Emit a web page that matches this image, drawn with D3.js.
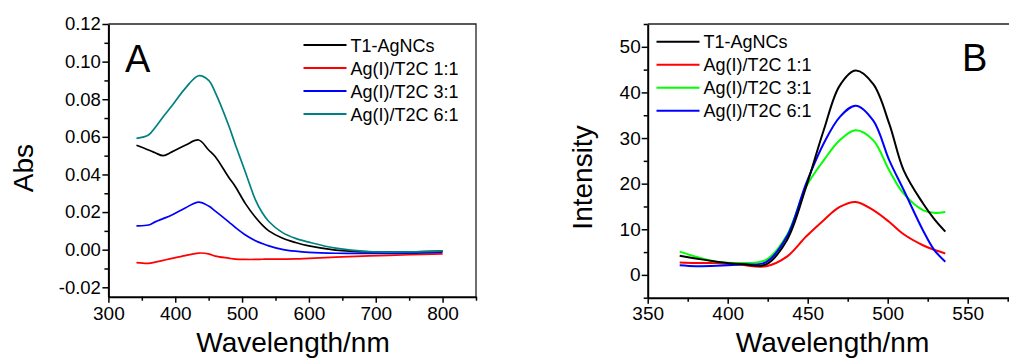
<!DOCTYPE html>
<html>
<head>
<meta charset="utf-8">
<script src="https://cdn.jsdelivr.net/npm/d3@7"></script>
<style>
  body { margin: 0; background: #fff; }
  svg { display: block; font-family: "Liberation Sans", Arial, sans-serif; }
  .axis path, .axis line { stroke: #000; }
  .axis text { fill: #000; font-family: "Liberation Sans", Arial, sans-serif; }
</style>
</head>
<body>
<svg id="chart" width="1009" height="361"></svg>
<script>
// panel A: absorbance
const waveA = [342, 360, 370, 382, 395, 415, 435, 450, 460, 480, 490, 505, 520, 530, 540, 560, 580, 600, 640, 690, 750, 800];
const absT1 = [0.0555, 0.0530, 0.0515, 0.0500, 0.0520, 0.0555, 0.0583, 0.0530, 0.0494, 0.0385, 0.0335, 0.0245, 0.0172, 0.0132, 0.0100, 0.0062, 0.0038, 0.0020, -0.0002, -0.0012, -0.0012, -0.0008];
const abs11 = [-0.0069, -0.0073, -0.0066, -0.0057, -0.0046, -0.0032, -0.0018, -0.0022, -0.0034, -0.0045, -0.0050, -0.0052, -0.0052, -0.0051, -0.0050, -0.0050, -0.0049, -0.0046, -0.0040, -0.0033, -0.0027, -0.0022];
const abs31 = [0.0127, 0.0131, 0.0148, 0.0165, 0.0184, 0.0222, 0.0253, 0.0232, 0.0205, 0.0148, 0.0118, 0.0078, 0.0048, 0.0033, 0.0020, 0.0002, -0.0008, -0.0014, -0.0019, -0.0020, -0.0019, -0.0013];
const abs61 = [0.0592, 0.0610, 0.0650, 0.0707, 0.0765, 0.0858, 0.0925, 0.0900, 0.0835, 0.0660, 0.0558, 0.0412, 0.0265, 0.0198, 0.0150, 0.0092, 0.0060, 0.0040, 0.0008, -0.0010, -0.0012, -0.0006];
const xTicksA = [300, 400, 500, 600, 700, 800];
const yTicksA = [-0.02, 0, 0.02, 0.04, 0.06, 0.08, 0.10, 0.12];

// panel B: fluorescence
const waveB = [370, 380, 393, 408, 424, 437, 449, 460, 470, 480, 491, 501, 510, 522, 529, 536];
const intT1 = [4.2, 3.6, 2.9, 2.4, 2.3, 7.6, 19.3, 31.7, 41.5, 44.8, 41.8, 33.1, 22.9, 15.7, 12.3, 9.5];
const int11 = [2.7, 2.6, 2.6, 2.2, 1.9, 4.0, 8.4, 12.0, 14.9, 16.0, 14.2, 11.6, 8.9, 6.5, 5.5, 4.7];
const int31 = [5.1, 4.0, 2.9, 2.6, 3.3, 8.7, 19.3, 25.1, 29.5, 31.7, 29.5, 22.9, 17.8, 14.2, 13.6, 13.8];
const int61 = [2.1, 1.9, 2.0, 2.3, 2.8, 8.4, 20.0, 28.8, 34.6, 37.1, 33.8, 25.1, 18.6, 9.8, 5.5, 2.9];
const xTicksB = [350, 400, 450, 500, 550];
const yTicksB = [0, 10, 20, 30, 40, 50];

const namesA = ["T1-AgNCs", "Ag(I)/T2C 1:1", "Ag(I)/T2C 3:1", "Ag(I)/T2C 6:1"];
const namesB = ["T1-AgNCs", "Ag(I)/T2C 1:1", "Ag(I)/T2C 3:1", "Ag(I)/T2C 6:1"];
const colorsA = ["#000000", "#ff0000", "#0000ff", "#008080"];
const colorsB = ["#000000", "#ff0000", "#00ff00", "#0000ff"];

const svg = d3.select("#chart");
const fmtA = d => d3.format(".2f")(d).replace("−", "-");

function panel(opt) {
  const { left, right, top, bottom } = opt;
  const x = d3.scaleLinear().domain(opt.xDomain).range([left, right]);
  const y = d3.scaleLinear().domain(opt.yDomain).range([bottom, top]);
  const g = svg.append("g");

  // top and right frame
  g.append("path")
    .attr("d", `M${left},${top}H${right}V${bottom}`)
    .attr("fill", "none").attr("stroke", "#222").attr("stroke-width", 1.3);

  // minor ticks
  g.append("g").attr("class", "axis")
    .attr("transform", `translate(0,${bottom})`)
    .call(d3.axisBottom(x).tickValues(opt.xMinor).tickSize(4).tickFormat(""))
    .call(a => a.select(".domain").remove())
    .selectAll("line").attr("stroke-width", 1.5);
  g.append("g").attr("class", "axis")
    .attr("transform", `translate(${left},0)`)
    .call(d3.axisLeft(y).tickValues(opt.yMinor).tickSize(4).tickFormat(""))
    .call(a => a.select(".domain").remove())
    .selectAll("line").attr("stroke-width", 1.5);

  // major axes
  const xa = g.append("g").attr("class", "axis")
    .attr("transform", `translate(0,${bottom})`)
    .call(d3.axisBottom(x).tickValues(opt.xTicks).tickSize(6).tickSizeOuter(0).tickPadding(opt.xPad));
  xa.select(".domain").attr("stroke-width", 2);
  xa.selectAll("line").attr("stroke-width", 1.5);
  xa.selectAll("text").style("font-size", opt.xFont + "px");

  const ya = g.append("g").attr("class", "axis")
    .attr("transform", `translate(${left},0)`)
    .call(d3.axisLeft(y).tickValues(opt.yTicks).tickSize(6).tickSizeOuter(0)
      .tickPadding(opt.yPad).tickFormat(opt.yFormat));
  ya.select(".domain").attr("stroke-width", 2);
  ya.selectAll("line").attr("stroke-width", 1.5);
  ya.selectAll("text").style("font-size", opt.yFont + "px");

  // curves
  const line = d3.line().curve(d3.curveCatmullRom.alpha(0.5))
    .x((d, i) => x(opt.wave[i])).y(d => y(d));
  opt.order.forEach(k => {
    g.append("path").datum(opt.series[k])
      .attr("d", line)
      .attr("fill", "none")
      .attr("stroke", opt.colors[k])
      .attr("stroke-width", opt.lineW)
      .attr("stroke-linejoin", "round");
  });

  // legend
  opt.names.forEach((n, i) => {
    const ly = opt.legY + i * 23;
    g.append("line")
      .attr("x1", opt.legX).attr("x2", opt.legX + 43)
      .attr("y1", ly).attr("y2", ly)
      .attr("stroke", opt.colors[i]).attr("stroke-width", 2);
    g.append("text")
      .attr("x", opt.legX + 47).attr("y", ly + 6.5)
      .style("font-size", "18px")
      .text(n);
  });

  // panel letter
  g.append("text").attr("x", opt.letterX).attr("y", opt.letterY)
    .style("font-size", "38px").text(opt.letter);

  // axis titles
  g.append("text").attr("x", opt.xTitleX).attr("y", 352)
    .attr("text-anchor", "middle").style("font-size", "28px")
    .text("Wavelength/nm");
  g.append("text")
    .attr("transform", `translate(${opt.yTitleX},${opt.yTitleY}) rotate(-90)`)
    .attr("text-anchor", "middle").style("font-size", "28px")
    .text(opt.yTitle);
}

panel({
  left: 108.4, right: 476, top: 24, bottom: 296.7,
  xDomain: [300, 850], yDomain: [-0.025, 0.12],
  xTicks: xTicksA, yTicks: yTicksA,
  xMinor: [350, 450, 550, 650, 750, 850],
  yMinor: [-0.01, 0.01, 0.03, 0.05, 0.07, 0.09, 0.11],
  xPad: 4, yPad: 1.5, xFont: 19, yFont: 18.5, yFormat: fmtA,
  wave: waveA, series: [absT1, abs11, abs31, abs61], order: [1, 2, 0, 3],
  colors: colorsA, names: namesA, lineW: 1.7,
  legX: 303.5, legY: 45,
  letter: "A", letterX: 125, letterY: 72,
  xTitleX: 293, yTitle: "Abs", yTitleX: 33, yTitleY: 168
});

panel({
  left: 647.7, right: 1047.7, top: 24, bottom: 297.7,
  xDomain: [350, 600], yDomain: [-5, 55],
  xTicks: xTicksB, yTicks: yTicksB,
  xMinor: [375, 425, 475, 525, 575],
  yMinor: [-5, 5, 15, 25, 35, 45, 55],
  xPad: 3, yPad: 1, xFont: 19, yFont: 19, yFormat: d3.format("d"),
  wave: waveB, series: [intT1, int11, int31, int61], order: [1, 2, 3, 0],
  colors: colorsB, names: namesB, lineW: 2,
  legX: 656.5, legY: 41.7,
  letter: "B", letterX: 962, letterY: 71,
  xTitleX: 832.5, yTitle: "Intensity", yTitleX: 592, yTitleY: 177.5
});
</script>
</body>
</html>
